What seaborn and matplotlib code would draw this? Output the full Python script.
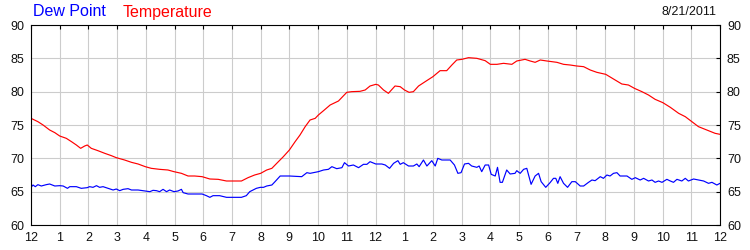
import numpy as np
import pandas as pd
import matplotlib
matplotlib.use('Agg')
import matplotlib.pyplot as plt
import seaborn as sns

# ---- data (hours after midnight, degrees F) ----
temp_hours = [0.0, 0.24, 0.42, 0.65, 0.83, 1.0, 1.23, 1.41, 1.58, 1.73, 1.87, 1.96,
              2.10, 2.33, 2.57, 2.80, 2.97, 3.26, 3.50, 3.73, 3.98, 4.19, 4.48, 4.77,
              4.98, 5.24, 5.47, 5.70, 5.96, 6.23, 6.52, 6.81, 6.98, 7.33, 7.56, 7.79,
              8.0, 8.21, 8.39, 8.56, 8.79, 9.0, 9.20, 9.37, 9.55, 9.72, 9.90, 10.01,
              10.19, 10.42, 10.71, 11.0, 11.17, 11.46, 11.64, 11.81, 12.01, 12.10,
              12.28, 12.45, 12.68, 12.86, 13.01, 13.17, 13.32, 13.50, 13.73, 14.0,
              14.25, 14.48, 14.66, 14.83, 15.01, 15.24, 15.53, 15.82, 16.0, 16.23,
              16.46, 16.75, 16.92, 17.21, 17.39, 17.56, 17.74, 17.97, 18.32, 18.55,
              18.78, 19.01, 19.25, 19.48, 19.71, 20.02, 20.29, 20.58, 20.81, 21.02,
              21.28, 21.51, 21.74, 22.01, 22.27, 22.56, 22.79, 23.02, 23.25, 23.54,
              23.83, 24.0]
temp_values = [76.0, 75.5, 75.0, 74.25, 73.85, 73.35, 73.0, 72.5, 72.0, 71.5, 71.85, 72.0,
               71.5, 71.15, 70.75, 70.4, 70.1, 69.75, 69.4, 69.15, 68.75, 68.5, 68.35, 68.25,
               68.0, 67.75, 67.35, 67.35, 67.25, 66.9, 66.85, 66.6, 66.6, 66.6, 67.1, 67.5,
               67.75, 68.25, 68.5, 69.25, 70.25, 71.25, 72.5, 73.5, 74.75, 75.75, 76.0, 76.5,
               77.15, 78.0, 78.6, 79.9, 80.0, 80.05, 80.25, 80.85, 81.1, 81.0,
               80.25, 79.75, 80.85, 80.75, 80.25, 79.9, 80.0, 80.85, 81.5, 82.25,
               83.15, 83.15, 84.0, 84.75, 84.85, 85.1, 85.0, 84.65, 84.1, 84.1,
               84.25, 84.1, 84.6, 84.85, 84.6, 84.4, 84.75, 84.6, 84.4, 84.1,
               84.0, 83.85, 83.75, 83.25, 82.9, 82.6, 81.9, 81.15, 81.0, 80.5,
               80.0, 79.5, 78.85, 78.35, 77.65, 76.75, 76.25, 75.5, 74.75, 74.25,
               73.75, 73.6]

dew_hours = [0.0, 0.07, 0.15, 0.24, 0.36, 0.53, 0.65, 0.83, 1.0, 1.12, 1.27, 1.35,
             1.58, 1.75, 1.96, 2.04, 2.16, 2.28, 2.39, 2.51, 2.68, 2.86, 2.97, 3.09,
             3.21, 3.38, 3.50, 3.73, 3.98, 4.14, 4.25, 4.37, 4.48, 4.60, 4.72, 4.83,
             4.98, 5.12, 5.24, 5.30, 5.47, 5.70, 5.96, 6.11, 6.23, 6.34, 6.57, 6.81,
             6.98, 7.33, 7.50, 7.62, 7.85, 7.99, 8.10, 8.21, 8.39, 8.50, 8.68, 9.0,
             9.43, 9.61, 9.72, 10.01, 10.19, 10.36, 10.48, 10.65, 10.83, 10.92, 11.06,
             11.23, 11.41, 11.58, 11.70, 11.81, 12.01, 12.22, 12.34, 12.49, 12.63,
             12.78, 12.86, 12.97, 13.15, 13.32, 13.44, 13.52, 13.67, 13.79, 13.96,
             14.08, 14.17, 14.31, 14.60, 14.75, 14.87, 14.98, 15.10, 15.24, 15.35,
             15.53, 15.61, 15.70, 15.82, 15.94, 16.03, 16.17, 16.25, 16.34, 16.42,
             16.57, 16.69, 16.86, 16.92, 17.04, 17.16, 17.27, 17.42, 17.56, 17.68,
             17.77, 17.93, 18.08, 18.20, 18.28, 18.35, 18.43, 18.55, 18.69, 18.84,
             18.96, 19.13, 19.25, 19.42, 19.54, 19.65, 19.83, 19.94, 20.06, 20.17,
             20.29, 20.41, 20.52, 20.76, 20.93, 21.05, 21.22, 21.34, 21.51, 21.63,
             21.74, 21.86, 21.98, 22.15, 22.27, 22.38, 22.50, 22.67, 22.79, 22.90,
             23.08, 23.25, 23.43, 23.60, 23.72, 23.89, 24.0]
dew_values = [65.65, 66.0, 65.75, 66.05, 65.85, 66.05, 66.15, 65.85, 65.9, 65.85, 65.5, 65.75,
              65.75, 65.5, 65.6, 65.75, 65.65, 65.9, 65.65, 65.75, 65.5, 65.25, 65.4, 65.15,
              65.35, 65.45, 65.25, 65.25, 65.1, 65.0, 65.2, 65.15, 65.0, 65.35, 65.0, 65.25,
              65.0, 65.1, 65.35, 64.85, 64.65, 64.65, 64.65, 64.4, 64.15, 64.4, 64.4, 64.15,
              64.15, 64.15, 64.4, 65.0, 65.5, 65.65, 65.65, 65.85, 66.0, 66.5, 67.35, 67.35,
              67.25, 67.85, 67.75, 68.0, 68.25, 68.35, 68.75, 68.45, 68.6, 69.35, 68.85,
              69.0, 68.6, 69.1, 69.1, 69.5, 69.15, 69.15, 69.0, 68.5, 69.25,
              69.65, 69.1, 69.35, 68.85, 68.85, 69.15, 68.75, 69.75, 68.85, 69.65,
              68.85, 70.0, 69.75, 69.75, 69.0, 67.75, 67.85, 69.15, 69.25, 68.85,
              68.65, 68.85, 68.0, 69.0, 69.0, 67.6, 67.35, 68.65, 66.4, 66.4,
              68.25, 67.65, 67.75, 68.15, 67.75, 68.35, 68.5, 66.1, 67.35, 67.75,
              66.5, 65.65, 66.35, 67.0, 67.0, 66.25, 67.25, 66.25, 65.65, 66.5,
              66.5, 65.85, 65.85, 66.4, 66.75, 66.65, 67.25, 67.0, 67.5, 67.35,
              67.75, 67.85, 67.35, 67.35, 66.85, 67.1, 66.75, 67.0, 66.6, 66.75,
              66.4, 66.6, 66.4, 66.85, 66.6, 66.4, 66.85, 66.6, 67.0, 66.6,
              66.9, 66.75, 66.6, 66.25, 66.4, 66.0, 66.25]

hour_ticks = list(range(25))
hour_labels = ['12', '1', '2', '3', '4', '5', '6', '7', '8', '9', '10', '11',
               '12', '1', '2', '3', '4', '5', '6', '7', '8', '9', '10', '11', '12']
y_ticks = [60, 65, 70, 75, 80, 85, 90]
date_label = '8/21/2011'

# ---- style ----
sns.set_style('white')
plt.rcParams['font.family'] = ['Liberation Sans', 'DejaVu Sans']

W, H = 750, 250
fig = plt.figure(figsize=(7.5, 2.5), dpi=100)
ax = fig.add_axes([31 / W, 25 / H, 689 / W, 200 / H])

temp_df = pd.DataFrame({'hour': temp_hours, 'value': temp_values})
dew_df = pd.DataFrame({'hour': dew_hours, 'value': dew_values})
sns.lineplot(data=temp_df, x='hour', y='value', color='#ff0000', lw=0.85, ax=ax)
sns.lineplot(data=dew_df, x='hour', y='value', color='#0000ff', lw=0.85, ax=ax)

ax.set_xlim(0, 24)
ax.set_ylim(60, 90)
ax.set_xticks(hour_ticks)
ax.set_xticklabels(hour_labels)
ax.set_yticks(y_ticks)
ax.set_xlabel('')
ax.set_ylabel('')
ax.set_axisbelow(True)
ax.grid(True, color='#cccccc', lw=0.8)
ax.tick_params(direction='in', length=3, width=0.8, color='black',
               top=True, right=True, labelright=True, labeltop=False,
               labelsize=9, pad=5, labelcolor='#111111')
for s in ax.spines.values():
    s.set_color('black')
    s.set_linewidth(0.8)

fig.text(33 / W, 1 - 12 / H, 'Dew Point', color='#0000ff', fontsize=11.5, va='center', ha='left')
fig.text(123 / W, 1 - 12 / H, 'Temperature', color='#ff0000', fontsize=11.5, va='center', ha='left')
fig.text(717 / W, 1 - 12 / H, date_label, color='#111111', fontsize=9, va='center', ha='right')

fig.savefig('out.png', dpi=100)
